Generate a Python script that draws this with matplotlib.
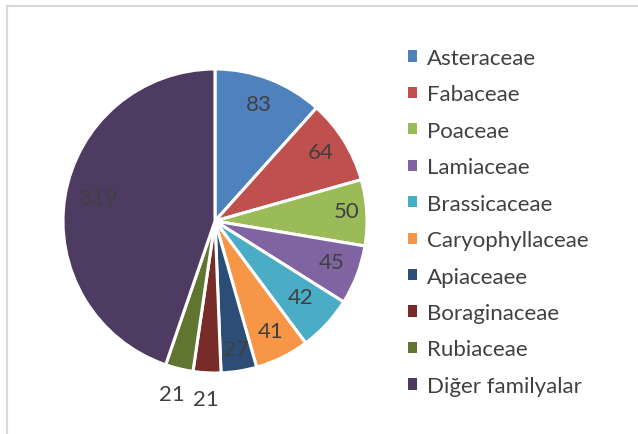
import numpy as np
import matplotlib
matplotlib.use("Agg")
import matplotlib.pyplot as plt
from matplotlib.lines import Line2D
from matplotlib.patches import Patch

families = ["Asteraceae", "Fabaceae", "Poaceae", "Lamiaceae", "Brassicaceae",
            "Caryophyllaceae", "Apiaceaee", "Boraginaceae", "Rubiaceae",
            "Diğer familyalar"]
counts = [83, 64, 50, 45, 42, 41, 27, 21, 21, 319]
colors = ["#4F81BD", "#C0504D", "#9BBB59", "#8064A2", "#4BACC6",
          "#F79646", "#2C4D75", "#772C2A", "#5F7530", "#4D3B62"]
# where each value label sits, as a fraction of the radius
label_dist = [0.8, 0.82, 0.87, 0.82, 0.77, 0.83, 0.87, 1.19, 1.19, 0.78]

plt.rcParams['font.family'] = ['Lato', 'DejaVu Sans']
text_color = "#404040"

fig = plt.figure(figsize=(6.38, 4.35), dpi=100)

# light gray chart frame (only top and left edges show in the crop)
fig.add_artist(Line2D([6.5 / 638, 6.5 / 638], [0, 1 - 7 / 435], color="#D9D9D9", lw=1.6))
fig.add_artist(Line2D([6.5 / 638, 1], [1 - 7 / 435, 1 - 7 / 435], color="#D9D9D9", lw=1.6))

# pie centre ~ (215, 222) px, radius ~152 px
r_px = 152
cx, cy = 215, 222
ax = fig.add_axes([(cx - r_px) / 638, 1 - (cy + r_px) / 435, 2 * r_px / 638, 2 * r_px / 435])
wedges, _ = ax.pie(counts, colors=colors, startangle=90, counterclock=False,
                   radius=1.0, wedgeprops=dict(edgecolor="white", linewidth=2.2))
ax.set_xlim(-1, 1)
ax.set_ylim(-1, 1)
ax.set_aspect("equal")
ax.axis("off")

for w, val, d in zip(wedges, counts, label_dist):
    ang = np.deg2rad((w.theta1 + w.theta2) / 2)
    ax.text(d * np.cos(ang), d * np.sin(ang) + 0.02, str(val), ha="center", va="center",
            fontsize=16, color=text_color, clip_on=False)

handles = [Patch(facecolor=c, edgecolor="none") for c in colors]
fig.legend(handles, families, loc="upper left", bbox_to_anchor=(399 / 638, 1 - 40 / 435),
           frameon=False, fontsize=16, handlelength=0.4, handleheight=0.4,
           handletextpad=0.45, labelspacing=0.74, labelcolor=text_color, borderaxespad=0)

fig.savefig("out.png", dpi=100)
